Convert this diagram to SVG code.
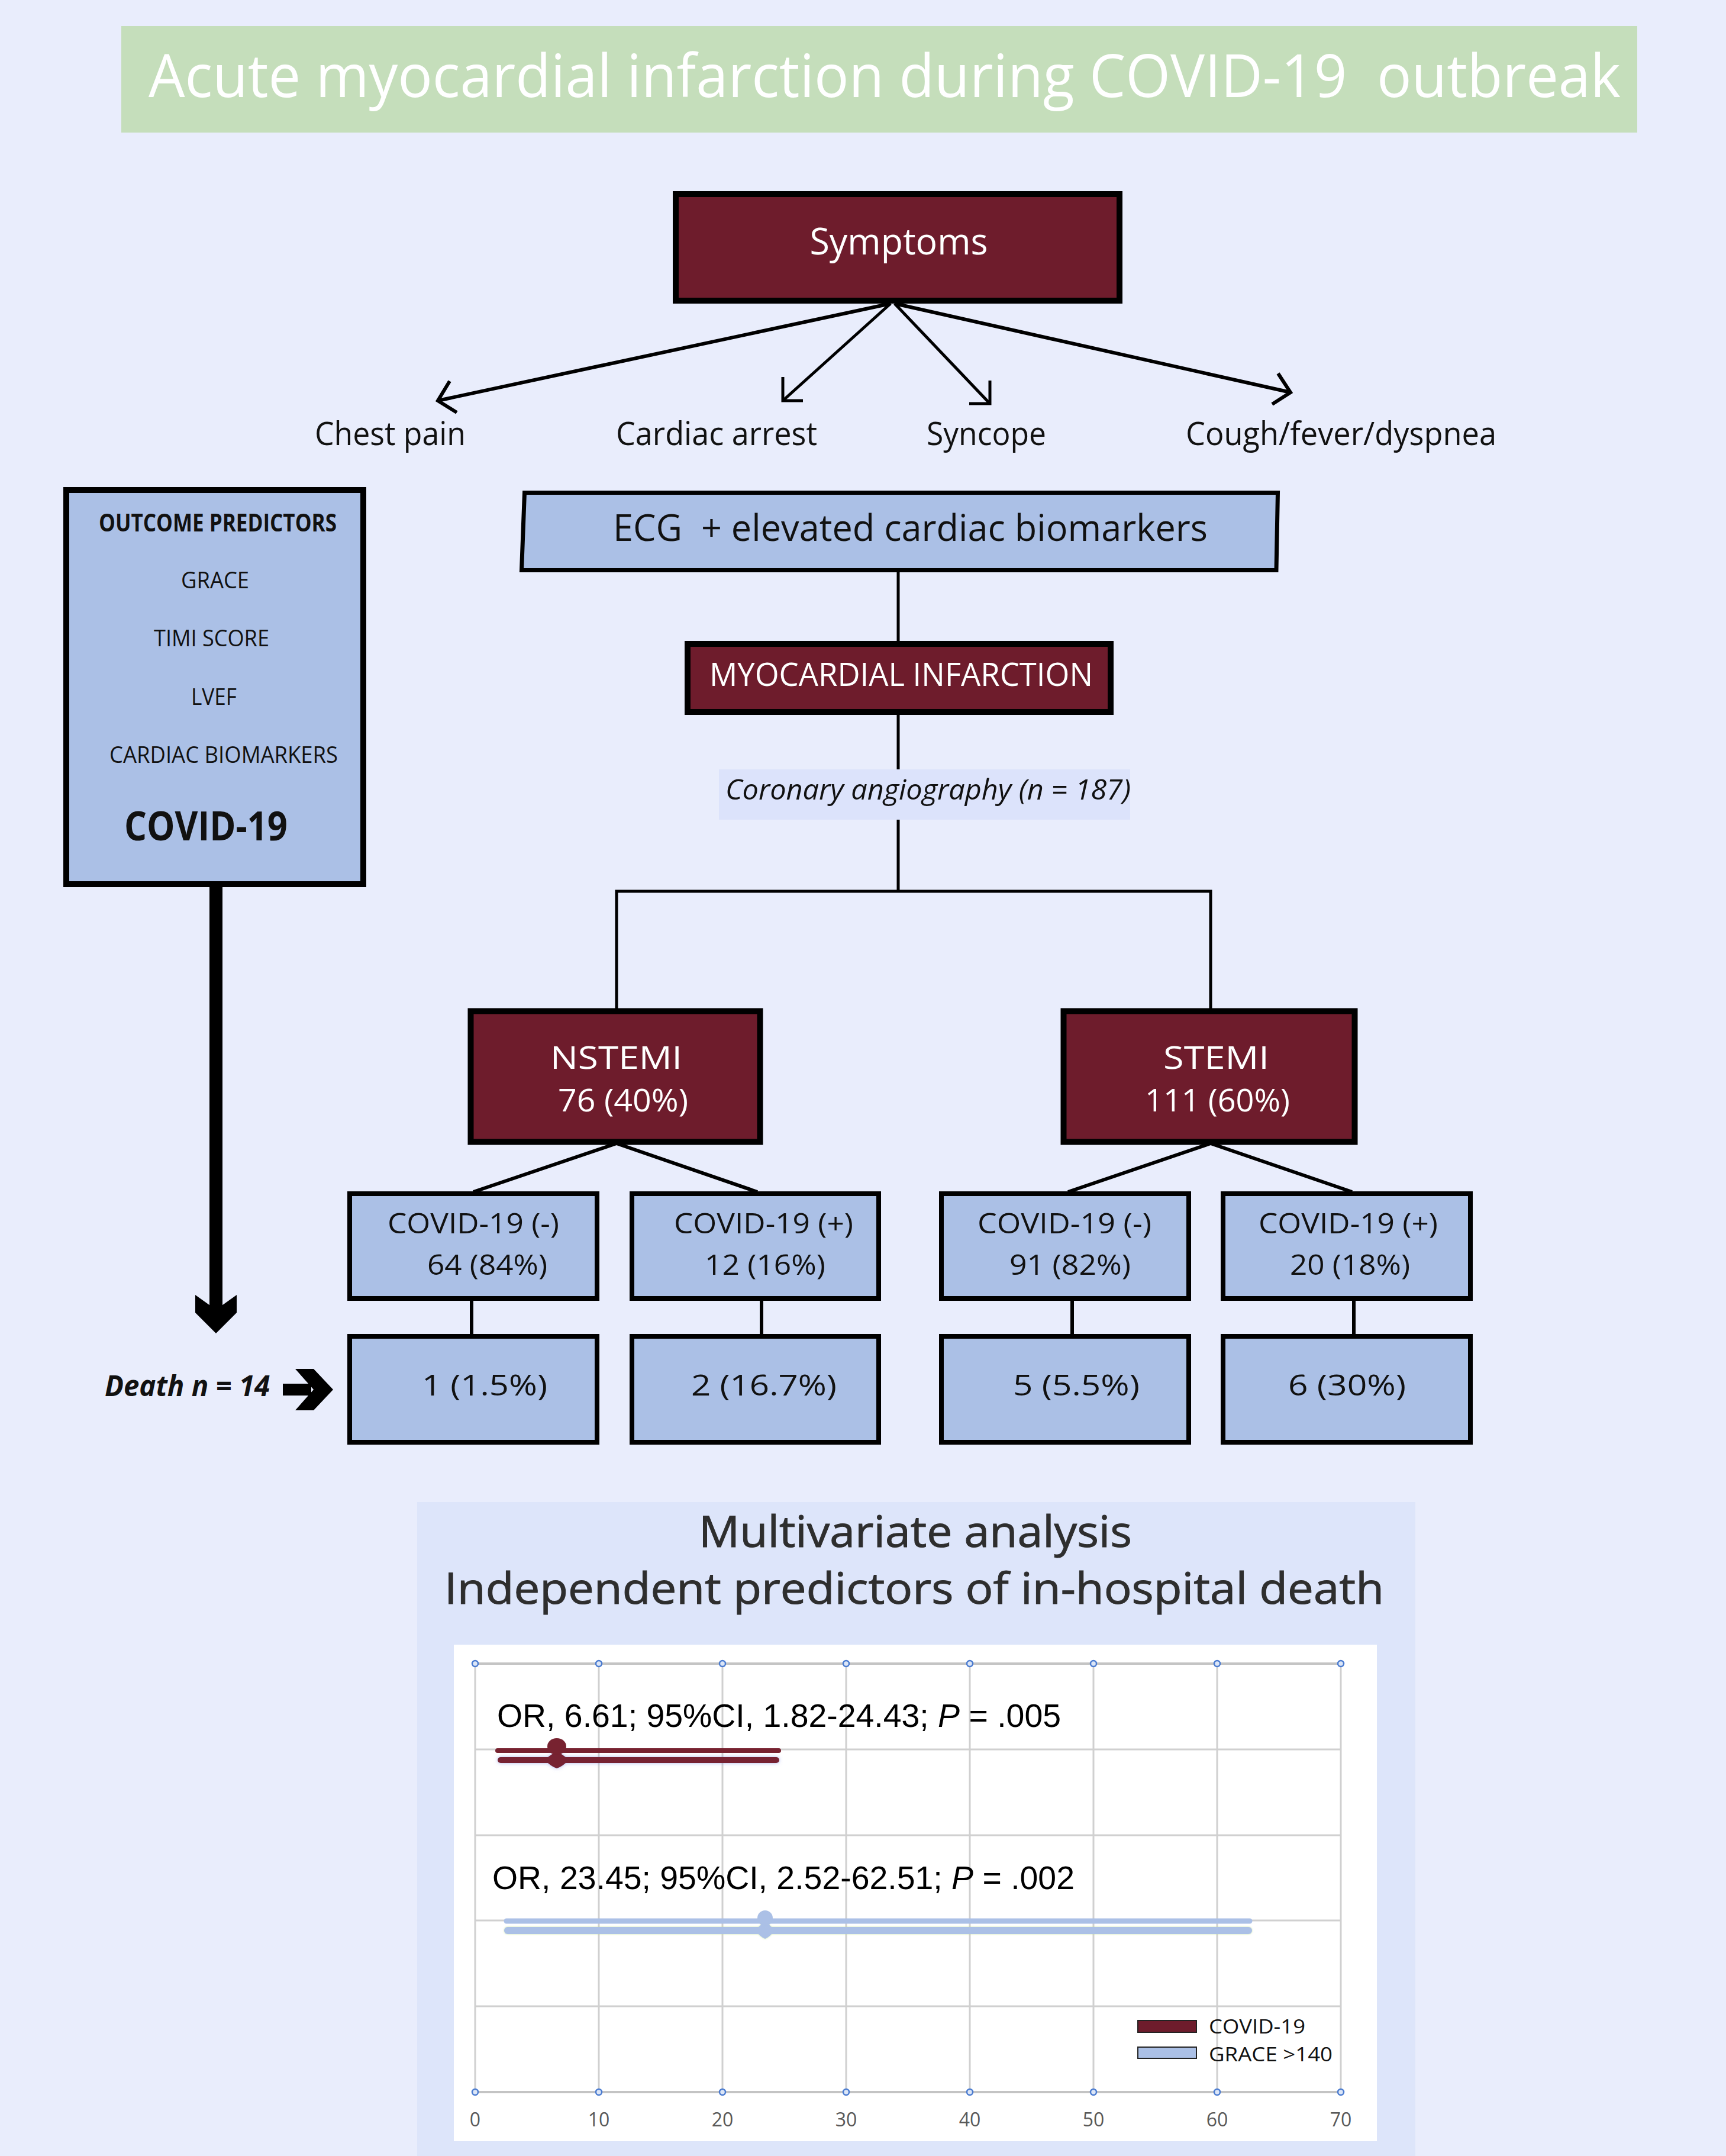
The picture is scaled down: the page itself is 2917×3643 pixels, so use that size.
<svg xmlns="http://www.w3.org/2000/svg" width="2917" height="3643" viewBox="0 0 2917 3643">
<style>
.f{font-family:"Open Sans","Noto Sans","Liberation Sans",sans-serif}
.a{font-family:"Liberation Sans",Arial,sans-serif}
.maroon{fill:#6E1C2C;stroke:#000;stroke-width:10}
.blue{fill:#ABC0E6;stroke:#000;stroke-width:8}
.w{fill:#fff}
.k{fill:#111}
.ln{stroke:#000;fill:none}
.grid{stroke:#D0D0D0;stroke-width:3;fill:none}
.mk{fill:#DCE6F7;stroke:#4A7BD0;stroke-width:2.5}
.ax{font-family:"Open Sans","Noto Sans",sans-serif;font-size:32px;fill:#595959;text-anchor:middle}
.pre{white-space:pre}
</style>
<defs>
<filter id="glowB" x="-5%" y="-100%" width="110%" height="300%">
<feGaussianBlur in="SourceAlpha" stdDeviation="3" result="blur"/>
<feFlood flood-color="#7E8BE0" flood-opacity="0.6" result="col"/>
<feComposite operator="in" in="col" in2="blur" result="sh"/>
<feMerge><feMergeNode in="sh"/><feMergeNode in="SourceGraphic"/></feMerge>
</filter>
<filter id="glowG" x="-5%" y="-100%" width="110%" height="300%">
<feGaussianBlur in="SourceAlpha" stdDeviation="1.5" result="d"/>
<feFlood flood-color="#BFE08F" flood-opacity="0.8" result="col"/>
<feComposite operator="in" in="col" in2="d" result="sh"/>
<feMerge><feMergeNode in="sh"/><feMergeNode in="SourceGraphic"/></feMerge>
</filter>
</defs>
<rect x="0" y="0" width="2917" height="3643" fill="#E9EDFC"/>

<g id="title">
<rect x="205" y="44" width="2562" height="180" fill="#C5DEBB"/>
<text class="f w pre" xml:space="preserve" x="251" y="164" font-size="100" textLength="2488" lengthAdjust="spacingAndGlyphs">Acute myocardial infarction during COVID-19  outbreak</text>
</g>

<g id="connectors">
<g class="ln" stroke-width="6" stroke-linejoin="miter">
<line x1="1505" y1="513" x2="740" y2="677"/>
<polyline points="760,644 740,677 772,697"/>
<line x1="2181" y1="663" x2="1512" y2="513"/>
<polyline points="2160,631 2181,663 2150,683"/>
</g>
<g class="ln" stroke-width="5" stroke-linejoin="miter">
<line x1="1505" y1="513" x2="1323" y2="677"/>
<polyline points="1323,637 1323,677 1357,677"/>
<line x1="1512" y1="513" x2="1673" y2="682"/>
<polyline points="1673,643 1673,682 1638,682"/>
</g>
<g class="ln" stroke-width="5">
<line x1="1518" y1="967" x2="1518" y2="1085"/>
<line x1="1518" y1="1206" x2="1518" y2="1300"/>
<line x1="1518" y1="1385" x2="1518" y2="1506"/>
<polyline points="1042,1705 1042,1506 2046,1506 2046,1705"/>
</g>
<g class="ln" stroke-width="6">
<line x1="1042" y1="1932" x2="800" y2="2014"/>
<line x1="1042" y1="1932" x2="1280" y2="2014"/>
<line x1="2046" y1="1932" x2="1805" y2="2014"/>
<line x1="2046" y1="1932" x2="2285" y2="2014"/>
<line x1="797" y1="2197" x2="797" y2="2255"/>
<line x1="1287" y1="2197" x2="1287" y2="2255"/>
<line x1="1812" y1="2197" x2="1812" y2="2255"/>
<line x1="2288" y1="2197" x2="2288" y2="2255"/>
</g>
<line x1="365" y1="1499" x2="365" y2="2215" stroke="#000" stroke-width="22"/>
<polygon points="330,2188 365,2213 400,2188 400,2218 365,2253 330,2218" fill="#000"/>
<rect x="478" y="2338" width="48" height="20" fill="#000"/>
<polygon points="499,2313 530,2313 563,2348 530,2383 499,2383 530,2348" fill="#000"/>
</g>

<g id="symptoms">
<rect class="maroon" x="1142" y="328" width="750" height="180"/>
<text class="f w" x="1519" y="430" font-size="63" text-anchor="middle" textLength="301" lengthAdjust="spacingAndGlyphs">Symptoms</text>
</g>
<g id="labels-symptoms" class="f k" font-size="55">
<text x="532" y="752" textLength="255" lengthAdjust="spacingAndGlyphs">Chest pain</text>
<text x="1041" y="752" textLength="340" lengthAdjust="spacingAndGlyphs">Cardiac arrest</text>
<text x="1566" y="752" textLength="202" lengthAdjust="spacingAndGlyphs">Syncope</text>
<text x="2004" y="752" textLength="525" lengthAdjust="spacingAndGlyphs">Cough/fever/dyspnea</text>
</g>

<g id="outcome-predictors">
<rect x="112" y="828" width="502" height="666" fill="#ABC0E6" stroke="#000" stroke-width="10"/>
<text class="f k" x="167" y="898" font-size="42" font-weight="bold" textLength="402" lengthAdjust="spacingAndGlyphs">OUTCOME PREDICTORS</text>
<text class="f k" x="306" y="994" font-size="38" textLength="115" lengthAdjust="spacingAndGlyphs">GRACE</text>
<text class="f k" x="260" y="1092" font-size="38" textLength="195" lengthAdjust="spacingAndGlyphs">TIMI SCORE</text>
<text class="f k" x="323" y="1191" font-size="38" textLength="77" lengthAdjust="spacingAndGlyphs">LVEF</text>
<text class="f k" x="185" y="1289" font-size="38" textLength="386" lengthAdjust="spacingAndGlyphs">CARDIAC BIOMARKERS</text>
<text class="f k" x="210" y="1420" font-size="68" font-weight="bold" textLength="276" lengthAdjust="spacingAndGlyphs">COVID-19</text>
</g>

<g id="ecg">
<polygon points="886.5,832.5 2159.5,832.5 2157,963.5 881.5,963.5" fill="#ABC0E6" stroke="#000" stroke-width="7"/>
<text class="f k pre" xml:space="preserve" x="1036" y="914" font-size="62" textLength="1005" lengthAdjust="spacingAndGlyphs">ECG  + elevated cardiac biomarkers</text>
</g>

<g id="mi">
<rect class="maroon" x="1162" y="1088" width="715" height="115"/>
<text class="f w" x="1199" y="1159" font-size="54" textLength="648" lengthAdjust="spacingAndGlyphs">MYOCARDIAL INFARCTION</text>
</g>

<g id="angiography">
<rect x="1215" y="1300" width="695" height="85" fill="#DCE3FB"/>
<text class="f k" x="1226" y="1351" font-size="48" font-style="italic" textLength="685" lengthAdjust="spacingAndGlyphs">Coronary angiography (n = 187)</text>
</g>

<g id="nstemi">
<rect class="maroon" x="795.5" y="1708.5" width="489" height="221" stroke-width="9"/>
<text class="f w" x="930" y="1806" font-size="53" textLength="223" lengthAdjust="spacingAndGlyphs">NSTEMI</text>
<text class="f w" x="943" y="1878" font-size="53" textLength="220" lengthAdjust="spacingAndGlyphs">76 (40%)</text>
</g>
<g id="stemi">
<rect class="maroon" x="1797.5" y="1708.5" width="492" height="221" stroke-width="9"/>
<text class="f w" x="1966" y="1806" font-size="53" textLength="179" lengthAdjust="spacingAndGlyphs">STEMI</text>
<text class="f w" x="1935" y="1878" font-size="53" textLength="245" lengthAdjust="spacingAndGlyphs">111 (60%)</text>
</g>

<g id="nstemi-covid-neg">
<rect class="blue" x="591" y="2017" width="418" height="177"/>
<text class="f k" x="655" y="2084" font-size="48" textLength="290" lengthAdjust="spacingAndGlyphs">COVID-19 (-)</text>
<text class="f k" x="722" y="2154" font-size="48" textLength="203" lengthAdjust="spacingAndGlyphs">64 (84%)</text>
</g>
<g id="nstemi-covid-pos">
<rect class="blue" x="1068" y="2017" width="417" height="177"/>
<text class="f k" x="1139" y="2084" font-size="48" textLength="303" lengthAdjust="spacingAndGlyphs">COVID-19 (+)</text>
<text class="f k" x="1191" y="2154" font-size="48" textLength="204" lengthAdjust="spacingAndGlyphs">12 (16%)</text>
</g>
<g id="stemi-covid-neg">
<rect class="blue" x="1591" y="2017" width="418" height="177"/>
<text class="f k" x="1652" y="2084" font-size="48" textLength="294" lengthAdjust="spacingAndGlyphs">COVID-19 (-)</text>
<text class="f k" x="1706" y="2154" font-size="48" textLength="205" lengthAdjust="spacingAndGlyphs">91 (82%)</text>
</g>
<g id="stemi-covid-pos">
<rect class="blue" x="2067" y="2017" width="418" height="177"/>
<text class="f k" x="2127" y="2084" font-size="48" textLength="303" lengthAdjust="spacingAndGlyphs">COVID-19 (+)</text>
<text class="f k" x="2180" y="2154" font-size="48" textLength="203" lengthAdjust="spacingAndGlyphs">20 (18%)</text>
</g>

<g id="death-label">
<text class="f k" x="177" y="2359" font-size="48" font-weight="bold" font-style="italic" textLength="279" lengthAdjust="spacingAndGlyphs">Death n = 14</text>
</g>
<g id="death-1">
<rect class="blue" x="591" y="2258" width="418" height="179"/>
<text class="f k" x="713" y="2358" font-size="50" textLength="212" lengthAdjust="spacingAndGlyphs">1 (1.5%)</text>
</g>
<g id="death-2">
<rect class="blue" x="1068" y="2258" width="417" height="179"/>
<text class="f k" x="1168" y="2358" font-size="50" textLength="246" lengthAdjust="spacingAndGlyphs">2 (16.7%)</text>
</g>
<g id="death-3">
<rect class="blue" x="1591" y="2258" width="418" height="179"/>
<text class="f k" x="1712" y="2358" font-size="50" textLength="214" lengthAdjust="spacingAndGlyphs">5 (5.5%)</text>
</g>
<g id="death-4">
<rect class="blue" x="2067" y="2258" width="418" height="179"/>
<text class="f k" x="2177" y="2358" font-size="50" textLength="199" lengthAdjust="spacingAndGlyphs">6 (30%)</text>
</g>

<g id="multivariate-panel">
<rect x="705" y="2538" width="1687" height="1105" fill="#DDE5FA"/>
<text class="f" x="1547" y="2614" font-size="74" fill="#2E2E2E" stroke="#2E2E2E" stroke-width="1" text-anchor="middle" textLength="732" lengthAdjust="spacingAndGlyphs">Multivariate analysis</text>
<text class="f" x="1545" y="2710" font-size="74" fill="#2E2E2E" stroke="#2E2E2E" stroke-width="1" text-anchor="middle" textLength="1588" lengthAdjust="spacingAndGlyphs">Independent predictors of in-hospital death</text>
<rect x="767" y="2779" width="1560" height="839" fill="#fff"/>
<g class="grid">
<line x1="803" y1="2811" x2="803" y2="3535"/>
<line x1="1012" y1="2811" x2="1012" y2="3535"/>
<line x1="1221" y1="2811" x2="1221" y2="3535"/>
<line x1="1430" y1="2811" x2="1430" y2="3535"/>
<line x1="1639" y1="2811" x2="1639" y2="3535"/>
<line x1="1848" y1="2811" x2="1848" y2="3535"/>
<line x1="2057" y1="2811" x2="2057" y2="3535"/>
<line x1="2266" y1="2811" x2="2266" y2="3535"/>
<line x1="803" y1="2811" x2="2266" y2="2811" stroke="#C4C4C4" stroke-width="4"/>
<line x1="803" y1="2956" x2="2266" y2="2956"/>
<line x1="803" y1="3101" x2="2266" y2="3101"/>
<line x1="803" y1="3245" x2="2266" y2="3245"/>
<line x1="803" y1="3390" x2="2266" y2="3390"/>
<line x1="803" y1="3535" x2="2266" y2="3535" stroke="#C4C4C4" stroke-width="4"/>
</g>
<g class="mk">
<circle cx="803" cy="2811" r="5"/><circle cx="1012" cy="2811" r="5"/><circle cx="1221" cy="2811" r="5"/><circle cx="1430" cy="2811" r="5"/><circle cx="1639" cy="2811" r="5"/><circle cx="1848" cy="2811" r="5"/><circle cx="2057" cy="2811" r="5"/><circle cx="2266" cy="2811" r="5"/>
<circle cx="803" cy="3535" r="5"/><circle cx="1012" cy="3535" r="5"/><circle cx="1221" cy="3535" r="5"/><circle cx="1430" cy="3535" r="5"/><circle cx="1639" cy="3535" r="5"/><circle cx="1848" cy="3535" r="5"/><circle cx="2057" cy="3535" r="5"/><circle cx="2266" cy="3535" r="5"/>
</g>
<g>
<text class="ax" x="803" y="3593">0</text>
<text class="ax" x="1012" y="3593">10</text>
<text class="ax" x="1221" y="3593">20</text>
<text class="ax" x="1430" y="3593">30</text>
<text class="ax" x="1639" y="3593">40</text>
<text class="ax" x="1848" y="3593">50</text>
<text class="ax" x="2057" y="3593">60</text>
<text class="ax" x="2266" y="3593">70</text>
</g>
<text class="a" x="840" y="2918" font-size="55" fill="#000" textLength="953" lengthAdjust="spacingAndGlyphs">OR, 6.61; 95%CI, 1.82-24.43; <tspan font-style="italic">P</tspan> = .005</text>
<text class="a" x="832" y="3192" font-size="55" fill="#000" textLength="984" lengthAdjust="spacingAndGlyphs">OR, 23.45; 95%CI, 2.52-62.51; <tspan font-style="italic">P</tspan> = .002</text>
<g id="bar-covid">
<line x1="841" y1="2958" x2="1316" y2="2958" stroke="#772230" stroke-width="8" stroke-linecap="round"/>
<g filter="url(#glowB)">
<line x1="846" y1="2974" x2="1312" y2="2974" stroke="#772230" stroke-width="10" stroke-linecap="round"/>
<path d="M921,2974 Q931,2963 941,2961 Q951,2963 961,2974 Q951,2985 941,2988 Q931,2985 921,2974 Z" fill="#772230"/>
</g>
<ellipse cx="941" cy="2951" rx="16" ry="14" fill="#772230"/>
</g>
<g id="bar-grace">
<line x1="856" y1="3246" x2="2112" y2="3246" stroke="#ABC0E6" stroke-width="9" stroke-linecap="round"/>
<g filter="url(#glowG)">
<line x1="858" y1="3262" x2="2110" y2="3262" stroke="#ABC0E6" stroke-width="12" stroke-linecap="round"/>
<path d="M1277,3262 Q1285,3251 1293,3249 Q1301,3251 1309,3262 Q1301,3273 1293,3276 Q1285,3273 1277,3262 Z" fill="#ABC0E6"/>
</g>
<ellipse cx="1293" cy="3241" rx="13" ry="13" fill="#ABC0E6"/>
</g>
<g id="legend">
<rect x="1923" y="3414" width="99" height="20" fill="#6E1C2C" stroke="#222" stroke-width="2"/>
<rect x="1923" y="3459" width="99" height="19" fill="#ABC0E6" stroke="#222" stroke-width="2"/>
<text class="f k" x="2043" y="3436" font-size="33" textLength="163" lengthAdjust="spacingAndGlyphs">COVID-19</text>
<text class="f k" x="2043" y="3483" font-size="33" textLength="209" lengthAdjust="spacingAndGlyphs">GRACE &gt;140</text>
</g>
</g>
</svg>
